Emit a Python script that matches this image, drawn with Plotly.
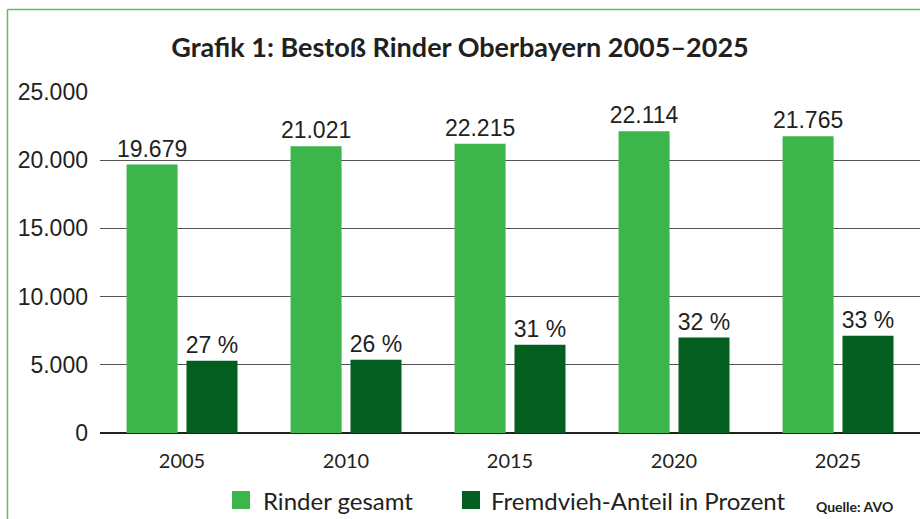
import plotly.graph_objects as go

# ---- data ----
years = ["2005", "2010", "2015", "2020", "2025"]
rinder_gesamt = [19679, 21021, 21215, 22114, 21765]          # bar heights as drawn
rinder_labels = ["19.679", "21.021", "22.215", "22.114", "21.765"]
fremdvieh = [5300, 5370, 6470, 7000, 7130]                    # bar heights as drawn
fremdvieh_labels = ["27 %", "26 %", "31 %", "32 %", "33 %"]
y_tickvals = [0, 5000, 10000, 15000, 20000, 25000]
y_ticktext = ["0", "5.000", "10.000", "15.000", "20.000", "25.000"]

LIGHT = "#3cb54a"
DARK = "#035e20"
TXT = "#231f20"

W, H = 920, 519
ML, MR, MT, MB = 100, 0, 92, 86
PW, PH = W - ML - MR, H - MT - MB


def px_x(px):
    return (px - ML) / PW


def px_y(py):
    return (H - MB - py) / PH


fig = go.Figure()
fig.add_trace(go.Bar(
    x=years, y=rinder_gesamt, name="Rinder gesamt",
    marker=dict(color=LIGHT, line=dict(width=0)),
    offset=-0.338, width=0.311,
    text=rinder_labels, textposition="outside", constraintext="none",
    cliponaxis=False,
    textfont=dict(family="Liberation Sans, Arial, sans-serif", size=23, color=TXT),
    showlegend=False,
))
fig.add_trace(go.Bar(
    x=years, y=fremdvieh, name="Fremdvieh-Anteil in Prozent",
    marker=dict(color=DARK, line=dict(width=0)),
    offset=0.0274, width=0.311,
    text=fremdvieh_labels, textposition="outside", constraintext="none",
    cliponaxis=False,
    textfont=dict(family="Liberation Sans, Arial, sans-serif", size=23, color=TXT),
    showlegend=False,
))

shapes = [
    # green frame (left and top)
    dict(type="line", xref="paper", yref="paper",
         x0=px_x(7.5), x1=px_x(7.5), y0=px_y(9.5), y1=px_y(H + 5),
         line=dict(color="#5cbf62", width=1.5)),
    dict(type="line", xref="paper", yref="paper",
         x0=px_x(7.5), x1=px_x(W + 5), y0=px_y(9.5), y1=px_y(9.5),
         line=dict(color="#5cbf62", width=1.5)),
    # legend swatches
    dict(type="rect", xref="paper", yref="paper",
         x0=px_x(232), x1=px_x(250), y0=px_y(509), y1=px_y(491),
         fillcolor=LIGHT, line=dict(width=0)),
    dict(type="rect", xref="paper", yref="paper",
         x0=px_x(462), x1=px_x(480), y0=px_y(509), y1=px_y(491),
         fillcolor=DARK, line=dict(width=0)),
]

legend_font = dict(family="Lato, sans-serif", size=24, color=TXT)
annotations = [
    dict(text="Rinder gesamt", xref="paper", yref="paper",
         x=px_x(261), y=px_y(500), xanchor="left", yanchor="middle",
         showarrow=False, font=legend_font),
    dict(text="Fremdvieh-Anteil in Prozent", xref="paper", yref="paper",
         x=px_x(489), y=px_y(500), xanchor="left", yanchor="middle",
         showarrow=False, font=legend_font),
    dict(text="<b>Quelle: AVO</b>", xref="paper", yref="paper",
         x=px_x(814), y=px_y(506), xanchor="left", yanchor="middle",
         showarrow=False, font=dict(family="Lato, sans-serif", size=14, color=TXT)),
]

fig.update_layout(
    width=W, height=H,
    margin=dict(l=ML, r=MR, t=MT, b=MB, pad=0),
    paper_bgcolor="white", plot_bgcolor="white",
    barmode="overlay",
    title=dict(text="<b>Grafik 1: Bestoß Rinder Oberbayern 2005–2025</b>",
               x=0.5, xref="container", xanchor="center",
               y=1 - 47.5 / H, yref="container", yanchor="middle",
               font=dict(family="Lato, sans-serif", size=27, color=TXT)),
    shapes=shapes,
    annotations=annotations,
    showlegend=False,
)
fig.update_xaxes(
    type="category", range=[-0.5, 4.5],
    showgrid=False, showline=False, zeroline=False,
    ticks="", ticklabelstandoff=14,
    tickfont=dict(family="Lato, sans-serif", size=20, color=TXT),
)
fig.update_yaxes(
    range=[0, 25000], tickvals=y_tickvals, ticktext=y_ticktext,
    showgrid=True, gridcolor="#555555", gridwidth=1.3,
    zeroline=True, zerolinecolor="#222222", zerolinewidth=2,
    showline=False, ticks="", ticklabelstandoff=11,
    tickfont=dict(family="Liberation Sans, Arial, sans-serif", size=23, color=TXT),
)

fig.write_html(
    "out.html",
    config={"displayModeBar": False},
    post_script="document.body.style.margin='0';document.body.style.padding='0';",
)
